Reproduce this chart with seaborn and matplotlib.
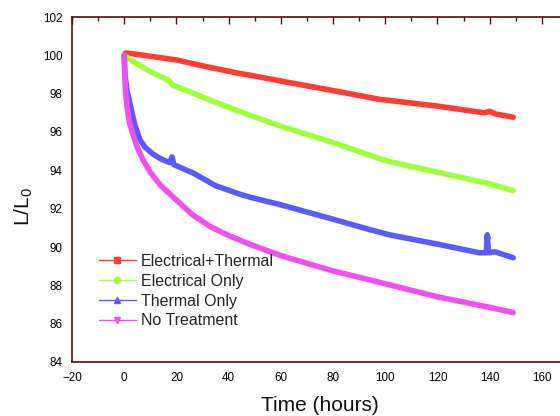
import numpy as np
import pandas as pd
import matplotlib
matplotlib.use("Agg")
import matplotlib.pyplot as plt
from matplotlib.lines import Line2D
from matplotlib.ticker import MultipleLocator
import seaborn as sns

# ---- data ----
series_names = ["Electrical+Thermal", "Electrical Only", "Thermal Only", "No Treatment"]

t_et = [0, 0.5, 2, 5, 10, 20, 30, 44, 48, 60, 80, 98, 102, 120, 138, 140, 142, 149]
v_et = [100.0, 100.12, 100.1, 100.05, 99.95, 99.76, 99.45, 99.06, 98.97, 98.66, 98.16,
        97.7, 97.64, 97.35, 97.0, 97.08, 96.95, 96.77]

t_e = [0, 2, 5, 10, 17, 18.5, 25, 35, 44.4, 48, 60, 80, 98, 101.8, 120, 140, 149]
v_e = [100.0, 99.8, 99.55, 99.15, 98.7, 98.45, 98.1, 97.55, 97.06, 96.88, 96.3, 95.45,
       94.6, 94.45, 93.9, 93.3, 92.94]

t_t = [0, 0.3, 1, 2, 3, 4, 6, 8, 11, 14, 17.5, 18.3, 19, 26.4, 35, 44.4, 48.2, 60, 71.2,
       80, 94.2, 101.8, 120, 136, 138.7, 139.1, 139.5, 142, 149]
v_t = [100.0, 99.0, 98.2, 97.6, 97.0, 96.4, 95.6, 95.2, 94.85, 94.6, 94.4, 94.7, 94.3,
       93.86, 93.2, 92.75, 92.6, 92.2, 91.78, 91.45, 90.9, 90.63, 90.15, 89.7, 89.7,
       90.63, 89.7, 89.75, 89.44]

t_n = [0, 0.2, 0.5, 1, 2, 3.5, 5, 7, 10, 14, 20, 26, 33, 40, 48, 60, 80, 94.2, 101.8,
       120, 140, 149]
v_n = [100.0, 99.0, 98.2, 97.4, 96.5, 95.8, 95.2, 94.6, 93.9, 93.2, 92.45, 91.7, 91.06,
       90.6, 90.15, 89.55, 88.75, 88.28, 88.02, 87.4, 86.85, 86.58]

colors = ["#ff3c32", "#a0ff3c", "#5a5aff", "#f050f0"]
markers = ["s", "o", "^", "v"]

df = pd.concat([
    pd.DataFrame({"t": t, "v": v, "s": name})
    for t, v, name in zip([t_et, t_e, t_t, t_n], [v_et, v_e, v_t, v_n], series_names)
], ignore_index=True)

# ---- figure ----
sns.set_theme(style="white")
plt.rcParams["font.family"] = ["Liberation Sans", "DejaVu Sans"]
plt.rcParams["mathtext.fontset"] = "custom"
plt.rcParams["mathtext.rm"] = "Liberation Sans"

W, H = 560, 416
fig = plt.figure(figsize=(W / 100, H / 100), dpi=100)
left, right, top, bottom = 72, 568, 17, 362
ax = fig.add_axes([left / W, 1 - bottom / H, (right - left) / W, (bottom - top) / H])

for name, col in zip(series_names, colors):
    sub = df[df["s"] == name]
    sns.lineplot(data=sub, x="t", y="v", ax=ax, color=col, linewidth=4.0,
                 sort=False, estimator=None, legend=False, solid_capstyle="round",
                 solid_joinstyle="round")

# spike marker on Thermal Only
spike_i = int(np.argmax(np.array(t_t) == 139.1))
ax.plot([t_t[spike_i]], [v_t[spike_i]], marker="^", color=colors[2], markersize=5,
        linestyle="none")

ax.set_xlim(-20, 170)
ax.set_ylim(84, 102)
ax.xaxis.set_major_locator(MultipleLocator(20))
ax.xaxis.set_minor_locator(MultipleLocator(10))
ax.yaxis.set_major_locator(MultipleLocator(2))
ax.yaxis.set_minor_locator(MultipleLocator(1))

spine_col = "#5a0a0a"
for sp in ax.spines.values():
    sp.set_color(spine_col)
    sp.set_linewidth(1.2)
    sp.set_visible(True)

ax.tick_params(which="both", direction="in", top=True, right=True, color=spine_col,
               width=1.0, labelsize=8.4, labelcolor="black")
ax.tick_params(which="major", length=5, pad=7)
ax.tick_params(which="minor", length=3)
ax.tick_params(axis="x", which="both", labeltop=False)

ax.set_xlabel("Time (hours)", fontsize=15, labelpad=8.5, color="#111111")
ax.set_ylabel(r"L/L$_\mathregular{0}$", fontsize=15, color="#111111")
ax.yaxis.set_label_coords(-0.075, 0.45)

handles = [Line2D([0], [0], color=c, lw=1.0, marker=m, markersize=4.5,
                  markerfacecolor=c, markeredgecolor=c)
           for c, m in zip(colors, markers)]
ax.legend(handles, series_names, loc="upper left",
          bbox_to_anchor=(99 / W, 1 - 254 / H), bbox_transform=fig.transFigure,
          frameon=False, fontsize=11.5, handlelength=2.3, handletextpad=0.32,
          labelspacing=0.3, borderpad=0, borderaxespad=0)

fig.savefig("out.png", dpi=100)
